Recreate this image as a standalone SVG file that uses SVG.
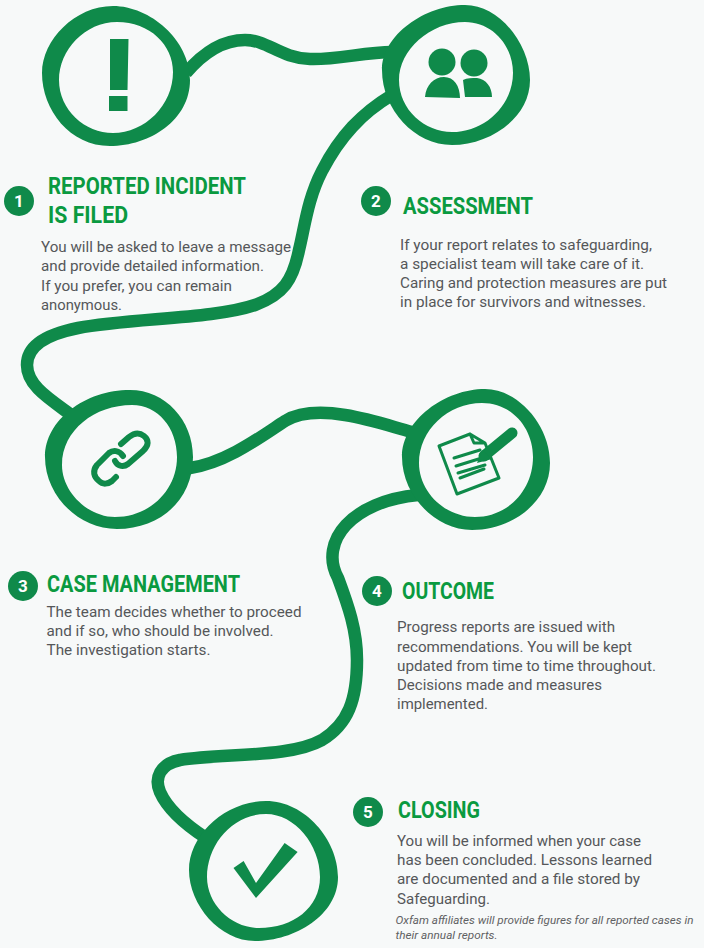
<svg xmlns="http://www.w3.org/2000/svg" width="704" height="948" viewBox="0 0 704 948">
<style>
.ring{fill:#0f8a4a;fill-rule:evenodd}
.conn{fill:none;stroke:#0f8a4a;stroke-width:12.5;stroke-linecap:butt;stroke-linejoin:round}
.icon{fill:#0f8a4a}
.line{fill:none;stroke:#0f8a4a;stroke-linecap:round;stroke-linejoin:round}
.h{font-family:"Roboto","Liberation Sans",sans-serif;font-weight:700;font-size:23px;fill:#0a9a40}
.b{font-family:"Roboto","Liberation Sans",sans-serif;font-weight:400;font-size:15px;fill:#555759}
.s{font-family:"Roboto","Liberation Sans",sans-serif;font-style:italic;font-size:11px;fill:#5f6163}
.n{font-family:"Roboto","Liberation Sans",sans-serif;font-weight:700;font-size:17px;fill:#fff;text-anchor:middle}
.badge{fill:#0f8a4a}
</style>
<rect width="704" height="948" fill="#f7f9f9"/>
<g id="connectors">
<path class="conn" d="M186 73C203 53 222 40 245 40C268 40 280 58 310 59C336 60 365 52 392 52"/>
<path class="conn" d="M392 95C362 113 340 136 322 171C308 198 305 225 299 250C293 280 283 295 255 305C215 319 130 318 78 328C48 334 27 345 27 365C27 385 48 398 70 414"/>
<path class="conn" d="M190 468C226 463 262 436 285 421C300 412 320 411 345 415C370 419 390 426 412 432"/>
<path class="conn" stroke-width="14" d="M418 495C385 498 360 510 346 525C332 540 328 560 338 578C348 605 357 630 357 660C357 700 348 724 322 740C290 758 225 753 180 760C160 764 154 778 160 792C168 810 186 825 206 838"/>
</g>
<g id="node-1">
<path class="ring" d="M113 6C150 6 190 40 190 80C190 120 150 146 110 146C70 146 42 110 42 73C42 40 75 6 113 6ZM117 22C85 22 59 50 59 80C59 110 85 133 113 133C145 133 173 105 173 72C173 45 150 22 117 22Z"/>
<path class="icon" d="M110 39H128.500L127.500 90H110ZM109 96H127.500V111H109Z"/>
<circle class="badge" cx="19" cy="201" r="15"/><text class="n" x="19" y="207">1</text>
<text class="h" x="48" y="194" textLength="198" lengthAdjust="spacingAndGlyphs">REPORTED INCIDENT</text>
<text class="h" x="48" y="223" textLength="80" lengthAdjust="spacingAndGlyphs">IS FILED</text>
<text class="b" x="41" y="252" textLength="250" lengthAdjust="spacingAndGlyphs">You will be asked to leave a message</text>
<text class="b" x="41" y="271" textLength="223" lengthAdjust="spacingAndGlyphs">and provide detailed information.</text>
<text class="b" x="41" y="291" textLength="191" lengthAdjust="spacingAndGlyphs">If you prefer, you can remain</text>
<text class="b" x="41" y="310" textLength="81" lengthAdjust="spacingAndGlyphs">anonymous.</text>
</g>
<g id="node-2">
<path class="ring" d="M465 5C500 5 530 45 530 80C530 118 490 145 452 145C415 145 382 110 382 70C382 35 425 5 465 5ZM465 22C430 22 399 50 399 80C399 110 425 132 452 132C485 132 513 105 513 73C513 45 492 22 465 22Z"/>
<circle class="icon" cx="442" cy="62" r="13.500"/><circle class="icon" cx="474" cy="63" r="13.500"/>
<path class="icon" d="M425 97C426 85 434 77 444 77C454 77 460 86 460 98ZM463 80C467 78 472 78 477 78C486 79 492 87 492 97L465 97Z"/>
<circle class="badge" cx="376" cy="201" r="15"/><text class="n" x="376" y="207">2</text>
<text class="h" x="403" y="214" textLength="130" lengthAdjust="spacingAndGlyphs">ASSESSMENT</text>
<text class="b" x="400" y="250" textLength="252" lengthAdjust="spacingAndGlyphs">If your report relates to safeguarding,</text>
<text class="b" x="400" y="269" textLength="244" lengthAdjust="spacingAndGlyphs">a specialist team will take care of it.</text>
<text class="b" x="400" y="288" textLength="267" lengthAdjust="spacingAndGlyphs">Caring and protection measures are put</text>
<text class="b" x="400" y="307" textLength="246" lengthAdjust="spacingAndGlyphs">in place for survivors and witnesses.</text>
</g>
<g id="node-3">
<path class="ring" d="M130 390C165 390 193 420 193 457C193 500 160 529 117 529C78 529 45 495 45 457C45 420 85 390 130 390ZM132 405C95 405 62 430 62 465C62 492 88 517 115 517C150 517 177 490 177 457C177 428 158 405 132 405Z"/>
<path class="line" stroke-width="6" d="M123 456C119 450 113 450 109 453L97 465C92 471 94 477 99 481C103 485 108 484 112 481L116 477"/>
<path class="line" stroke-width="6" d="M115 461C118 467 124 467 128 464L143 451C149 445 149 440 144 436C139 432 134 433 129 437L121 444"/>
<circle class="badge" cx="23" cy="586" r="15"/><text class="n" x="23" y="592">3</text>
<text class="h" x="47" y="592" textLength="193" lengthAdjust="spacingAndGlyphs">CASE MANAGEMENT</text>
<text class="b" x="46.500" y="617" textLength="255" lengthAdjust="spacingAndGlyphs">The team decides whether to proceed</text>
<text class="b" x="46.500" y="636" textLength="227" lengthAdjust="spacingAndGlyphs">and if so, who should be involved.</text>
<text class="b" x="46.500" y="655" textLength="164" lengthAdjust="spacingAndGlyphs">The investigation starts.</text>
</g>
<g id="node-4">
<path class="ring" d="M485 389C518 389 550 425 550 463C550 502 512 530 472 530C435 530 402 495 402 457C402 420 445 389 485 389ZM482 403C448 403 419 430 419 463C419 492 445 517 475 517C508 517 533 490 533 457C533 428 512 403 482 403Z"/>
<path class="line" stroke-width="3" d="M439 446L470 434L485 443L499 478L457 494ZM470 434L474 443L485 443"/>
<path class="line" stroke-width="3" stroke-linecap="butt" d="M454 458L480 450M456 466L485 457M458 473L485 465M460 478L484 469"/>
<path class="line" stroke-width="11" d="M484 456L512 433"/>
<path class="icon" d="M477 463L482 450L492 459Z"/>
<circle class="badge" cx="377" cy="591" r="15"/><text class="n" x="377" y="597">4</text>
<text class="h" x="402" y="599" textLength="92" lengthAdjust="spacingAndGlyphs">OUTCOME</text>
<text class="b" x="397" y="632" textLength="218" lengthAdjust="spacingAndGlyphs">Progress reports are issued with</text>
<text class="b" x="397" y="652" textLength="235" lengthAdjust="spacingAndGlyphs">recommendations. You will be kept</text>
<text class="b" x="397" y="671" textLength="259" lengthAdjust="spacingAndGlyphs">updated from time to time throughout.</text>
<text class="b" x="397" y="690" textLength="205" lengthAdjust="spacingAndGlyphs">Decisions made and measures</text>
<text class="b" x="397" y="709" textLength="91" lengthAdjust="spacingAndGlyphs">implemented.</text>
</g>
<g id="node-5">
<path class="ring" d="M266 801C305 801 338 840 338 877C338 915 295 941 255 941C220 941 189 905 189 870C189 835 225 801 266 801ZM266 814C232 814 207 845 207 877C207 905 232 928 259 928C293 928 320 908 320 877C320 845 295 814 266 814Z"/>
<path class="icon" d="M233.500 868L243.600 861L256 883L284.600 843L297.600 852L256 898Z"/>
<circle class="badge" cx="368" cy="812" r="15"/><text class="n" x="368" y="818">5</text>
<text class="h" x="398" y="818" textLength="82" lengthAdjust="spacingAndGlyphs">CLOSING</text>
<text class="b" x="397" y="846" textLength="244" lengthAdjust="spacingAndGlyphs">You will be informed when your case</text>
<text class="b" x="397" y="865" textLength="255" lengthAdjust="spacingAndGlyphs">has been concluded. Lessons learned</text>
<text class="b" x="397" y="884" textLength="243" lengthAdjust="spacingAndGlyphs">are documented and a file stored by</text>
<text class="b" x="397" y="904" textLength="93" lengthAdjust="spacingAndGlyphs">Safeguarding.</text>
<text class="s" x="395.500" y="924" textLength="298" lengthAdjust="spacingAndGlyphs">Oxfam affiliates will provide figures for all reported cases in</text>
<text class="s" x="395.500" y="939" textLength="102" lengthAdjust="spacingAndGlyphs">their annual reports.</text>
</g>
</svg>
